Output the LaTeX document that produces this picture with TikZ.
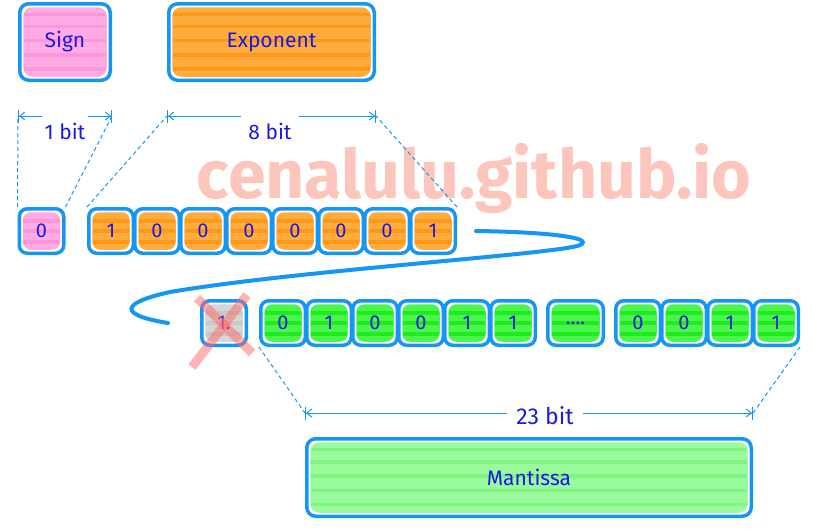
\documentclass[tikz,border=0pt]{standalone}
\usepackage{fontspec}
\setmainfont{Fira Sans}
\usetikzlibrary{positioning}
\usetikzlibrary{arrows.meta}
\usetikzlibrary{calc}

\definecolor{edgeblue}{RGB}{20,150,245}
\definecolor{inkblue}{RGB}{25,25,230}
\definecolor{signpink}{RGB}{255,172,230}
\definecolor{signpinkd}{RGB}{255,150,218}
\definecolor{exporange}{RGB}{255,172,62}
\definecolor{exporanged}{RGB}{255,152,25}
\definecolor{bitgreen}{RGB}{75,245,75}
\definecolor{bitgreend}{RGB}{30,236,30}
\definecolor{mangreen}{RGB}{155,250,155}
\definecolor{mangreend}{RGB}{128,244,128}
\definecolor{hidegrey}{RGB}{214,214,214}
\definecolor{hidegreyd}{RGB}{200,200,200}
\definecolor{marksalmon}{RGB}{252,198,188}
\definecolor{crossred}{RGB}{255,105,105}

\tikzset{
  hatch/.style n args={3}{
    path picture={
      \fill[#1] ($(path picture bounding box.south west)+(3.5pt,3.5pt)$) rectangle ($(path picture bounding box.north east)+(-3.5pt,-3.5pt)$);
      \foreach \f in {#3}
        \draw[#2,line width=3.5pt] ($(path picture bounding box.south west)!\f!(path picture bounding box.north west)+(4pt,0pt)$) -- ($(path picture bounding box.south east)!\f!(path picture bounding box.north east)+(-4pt,0pt)$);
    }},
  smallhatch/.style 2 args={hatch={#1}{#2}{0.25,0.5,0.72}},
  bighatch/.style 2 args={hatch={#1}{#2}{0.15,0.33,0.52,0.7,0.86}},
  bitbox/.style={draw=edgeblue, line width=3.5pt, rounded corners=8pt, minimum width=44.5pt, minimum height=44.5pt, inner sep=0pt, text=inkblue, font=\fontsize{20}{20}\selectfont},
  fieldbox/.style={draw=edgeblue, line width=3.5pt, rounded corners=9pt, inner sep=0pt, text=inkblue, font=\fontsize{21}{21}\selectfont},
  dimlabel/.style={text=inkblue, inner sep=1pt, font=\fontsize{21}{21}\selectfont},
  dimline/.style={edgeblue, line width=1pt, -{Straight Barb[length=5pt,width=8pt]Bar[width=13pt]}},
  guide/.style={edgeblue, line width=1pt, dash pattern=on 4pt off 3pt},
}

\begin{document}
\begin{tikzpicture}[x=1pt, y=-1pt]
        \useasboundingbox (0,0) rectangle (817,531);

        % watermark
        \node[text=marksalmon, anchor=base, inner sep=0pt, font=\fontsize{68}{68}\selectfont\bfseries] (mark) at (474,198) {cenalulu.github.io};

        % fields
        \node[fieldbox, bighatch={signpink}{signpinkd}, minimum width=90.5pt, minimum height=76.5pt] (sign) at (65,42) {Sign};
        \node[fieldbox, bighatch={exporange}{exporanged}, minimum width=205.5pt, minimum height=76.5pt] (expo) at (271.5,42) {Exponent};
        \node[fieldbox, bighatch={mangreen}{mangreend}, minimum width=444.5pt, minimum height=77.5pt] (mant) at (529,477.5) {Mantissa};

        % bits, first row
        \node[bitbox, smallhatch={signpink}{signpinkd}] (s0) at (41.5,231) {0};
        \foreach \b [count=\i] in {1,0,0,0,0,0,0,1}
            \node[bitbox, smallhatch={exporange}{exporanged}] (e\i) at (65+46*\i,231) {\b};

        % bits, second row
        \node[bitbox, smallhatch={hidegrey}{hidegreyd}] (one) at (224,323) {1.};
        \foreach \b [count=\i] in {0,1,0,0,1,1}
            \node[bitbox, smallhatch={bitgreen}{bitgreend}] (m\i) at (237+46*\i,323) {\b};
        \node[bitbox, smallhatch={bitgreen}{bitgreend}, minimum width=55.5pt] (dots) at (575.5,323) {....};
        \foreach \b [count=\i] in {0,0,1,1}
            \node[bitbox, smallhatch={bitgreen}{bitgreend}] (t\i) at (592+46*\i,323) {\b};

        % widths
        \coordinate (rowa) at (0,116);
        \coordinate (rowb) at (0,413);
        \coordinate (d1a) at (sign.south west |- rowa);
        \coordinate (d1b) at (sign.south east |- rowa);
        \coordinate (d2a) at (expo.south west |- rowa);
        \coordinate (d2b) at (expo.south east |- rowa);
        \coordinate (d3a) at (mant.north west |- rowb);
        \coordinate (d3b) at (mant.north east |- rowb);

        \node[dimlabel] (l1) at (65,131) {1 bit};
        \node[dimlabel] (l2) at (270,131) {8 bit};
        \node[dimlabel, font=\fontsize{23}{23}\selectfont] (l3) at (545,416) {23 bit};

        \draw[dimline] ($(l1.west |- rowa)+(-1,0)$) -- (d1a);
        \draw[dimline] ($(l1.east |- rowa)+(1,0)$) -- (d1b);
        \draw[dimline] ($(l2.west |- rowa)+(-6,0)$) -- (d2a);
        \draw[dimline] ($(l2.east |- rowa)+(6,0)$) -- (d2b);
        \draw[dimline] ($(l3.west |- rowb)+(-8,0)$) -- (d3a);
        \draw[dimline] ($(l3.east |- rowb)+(8,0)$) -- (d3b);

        \draw[guide] (s0.north west) -- (d1a);
        \draw[guide] (s0.north east) -- (d1b);
        \draw[guide] (e1.north west) -- (d2a);
        \draw[guide] (e8.north east) -- (d2b);
        \draw[guide] (m1.south west) -- (d3a);
        \draw[guide] (t4.south east) -- (d3b);

        % wrap from row to row
        \coordinate (cs) at ($(e8.east)+(19,0)$);
        \coordinate (ce) at ($(one.west)+(-32,0)$);
        \draw[edgeblue, line width=4pt, line cap=round] (cs) .. controls (550,232) and (595,238) .. (580,245)
            .. controls (560,254) and (300,270) .. (170,292) .. controls (120,303) and (118,315) .. (ce);

        % hidden bit
        \draw[crossred, opacity=.5, line width=9pt] ($(one)+(-27,-25)$) -- ($(one)+(28,30)$);
        \draw[crossred, opacity=.5, line width=9pt] ($(one)+(23,-28)$) -- ($(one)+(-32,44)$);
\end{tikzpicture}
\end{document}
